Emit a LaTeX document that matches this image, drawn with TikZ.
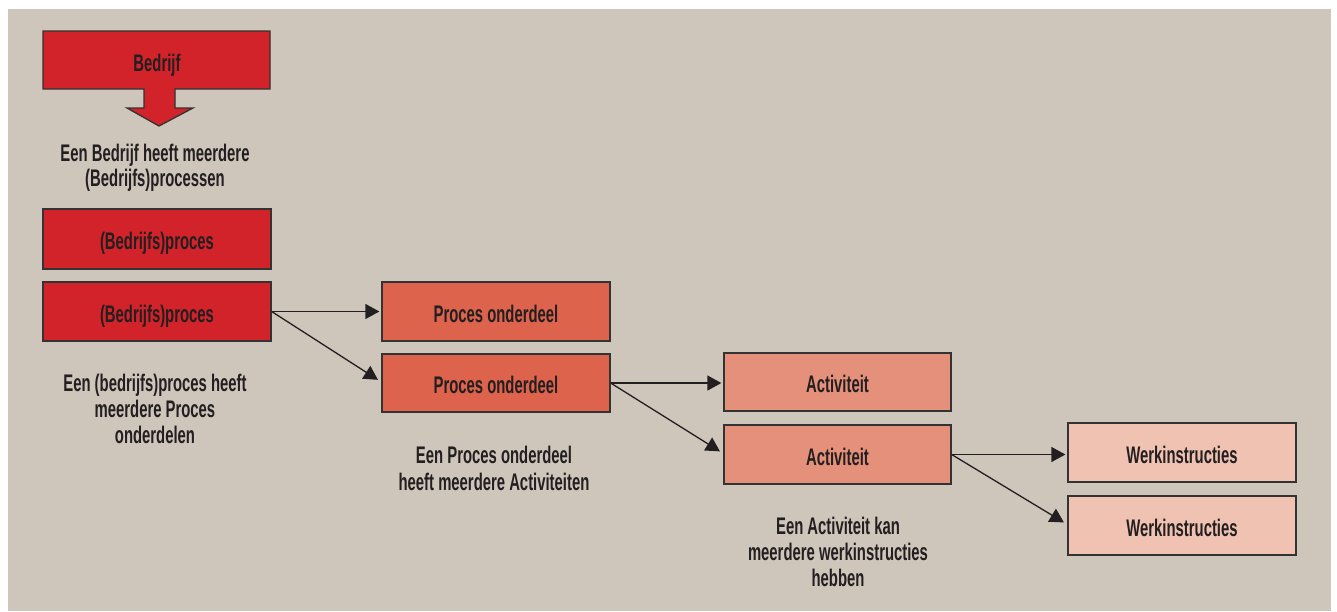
\documentclass[tikz,border=0pt]{standalone}
\usepackage{fontspec}
\setmainfont{Liberation Sans}[FakeStretch=0.619,UprightFont=*-Bold,BoldFont=*-Bold]
\usetikzlibrary{arrows.meta,calc}
\definecolor{bgc}{HTML}{CEC5BB}
\definecolor{redc}{HTML}{D2232A}
\definecolor{procc}{HTML}{DD634D}
\definecolor{actc}{HTML}{E5907A}
\definecolor{werkc}{HTML}{EFC2B2}
\definecolor{edgec}{HTML}{333333}
\definecolor{txtc}{HTML}{231F20}
\tikzset{
  box/.style={draw=edgec,line width=1.3pt,minimum width=228pt,minimum height=59pt,inner sep=0pt,text=txtc,font=\fontsize{24}{24}\selectfont,text height=21pt,text depth=0pt},
  lbl/.style={align=center,text=txtc,inner sep=0pt,anchor=north},
  conn/.style={draw=txtc,line width=1.3pt,-{Triangle[length=14pt,width=15pt]},shorten >=2pt}
}
\begin{document}
\begin{tikzpicture}[x=1pt,y=-1pt]
\useasboundingbox (0,0) rectangle (1337,611);
\fill[white] (0,0) rectangle (1337,611);
\fill[bgc] (8,9) rectangle (1331,611);
% Bedrijf box with arrow
\filldraw[fill=redc,draw=edgec,line width=1.3pt,line join=miter]
  (43,31) -- (270,31) -- (270,89) -- (175,89) -- (175,108) -- (193,108) -- (159,126)
  -- (127,108) -- (144,108) -- (144,89) -- (43,89) -- cycle;
\node[text=txtc,font=\fontsize{24}{24}\selectfont,inner sep=0pt,text height=21pt,text depth=0pt] (bedrijf) at (157,61) {Bedrijf};
\node[lbl,font=\fontsize{24}{24.5}\selectfont] (l1) at (155,143.5) {\rule{0pt}{18pt}Een Bedrijf heeft meerdere\\(Bedrijfs)processen};
\node[box,fill=redc,minimum height=60pt] (p1) at (157,239) {(Bedrijfs)proces};
\node[box,fill=redc] (p2) at (157,311.5) {(Bedrijfs)proces};
\node[lbl,font=\fontsize{24}{26}\selectfont] (l2) at (155,373.3) {\rule{0pt}{18pt}Een (bedrijfs)proces heeft\\meerdere Proces\\onderdelen};
\node[box,fill=procc] (o1) at (496,311.5) {Proces onderdeel};
\node[box,fill=procc,minimum height=58pt] (o2) at (496,383) {Proces onderdeel};
\node[lbl,font=\fontsize{24}{26.5}\selectfont] (l3) at (494,445.7) {\rule{0pt}{18pt}Een Proces onderdeel\\heeft meerdere Activiteiten};
\node[box,fill=actc,minimum width=227pt,minimum height=58pt] (a1) at (837.5,382) {Activiteit};
\node[box,fill=actc,minimum width=227pt] (a2) at (837.5,454.5) {Activiteit};
\node[lbl,font=\fontsize{24}{25.8}\selectfont] (l4) at (838,516.7) {\rule{0pt}{18pt}Een Activiteit kan\\meerdere werkinstructies\\hebben};
\node[box,fill=werkc] (w1) at (1182,452.5) {Werkinstructies};
\node[box,fill=werkc] (w2) at (1182,525.5) {Werkinstructies};
\draw[conn] (p2.east) -- (o1.west);
\draw[conn,shorten >=4pt] (p2.east) -- ($(o2.west)+(0,-1)$);
\draw[conn] (o2.east) -- (o2.east -| a1.west);
\draw[conn,shorten >=4pt] (o2.east) -- ($(a2.west)+(0,-1)$);
\draw[conn] (a2.east) -- (a2.east -| w1.west);
\draw[conn,shorten >=4pt] (a2.east) -- ($(w2.west)+(0,-1)$);
\end{tikzpicture}
\end{document}
